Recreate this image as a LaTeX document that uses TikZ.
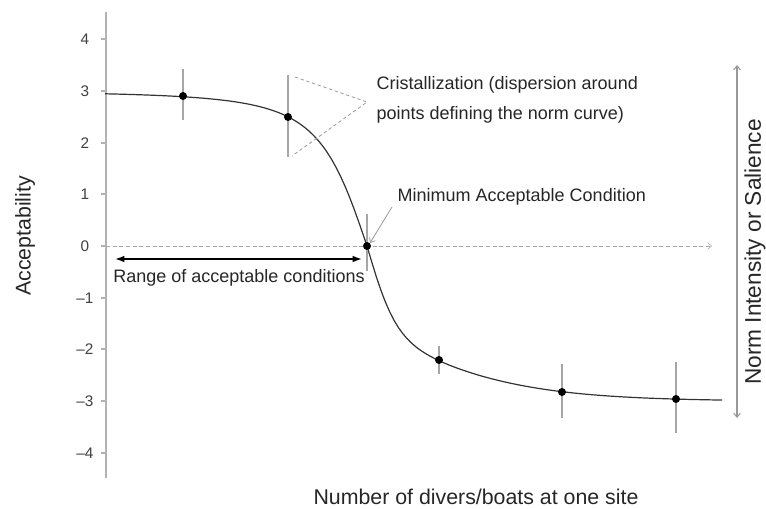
\documentclass[tikz,border=0pt]{standalone}
\usepackage{fontspec}
\setmainfont{Liberation Sans}
\usetikzlibrary{arrows.meta}

\begin{document}
\begin{tikzpicture}[x=0.75pt,y=-0.75pt,
		errbar/.style={gray!70,line width=0.8pt},
		dot/.style={circle,fill=black,inner sep=0pt,minimum size=6pt},
		note/.style={font=\fontsize{13.5}{22.5}\selectfont,text=black!85},
		declare function={th(\z)=1-2/(1+exp(2*min(\z,4)));}]
		\useasboundingbox (0,0) rectangle (766,508);
		% axis and ticks
		\draw [gray!60,line width=0.8pt] (106,12) -- (106,478);
		\foreach \y/\ytext in {39/4, 91/3, 143/2, 194/1, 246/0, 298/–1, 349/–2, 401/–3, 453/–4}
			{\draw [gray!60,line width=0.8pt] (101,\y) -- (106,\y);
			\node[text=black!75,font=\fontsize{11.5}{12}\selectfont] at (85,\y) {\ytext};}
		
		% reference level
		\draw [gray!70,dash pattern=on 3pt off 2pt,-{Straight Barb[length=3pt,width=5pt]}] (106,246) -- (712,246);
		
		% norm curve
		\draw [black!80,line width=0.9pt] plot[domain=-262:0,samples=60] ({367+\x},{246-155.25*(-0.019*\x)/sqrt(1+(0.019*\x)^2)})
			-- plot[domain=0:355,samples=80] ({367+\x},{246+82.8*th(0.035*\x)+72.45*th(0.0068*\x)});
		
		% points with dispersion
		\foreach \x/\y/\lo/\hi/\n in {183/96/69/120/1, 288/117/75/157/2, 367/246/214/271/3, 439/360/346/374/4, 562/392/364/418/5, 676/399/362/433/6}
			{\draw [errbar] (\x,\lo) -- (\x,\hi);
			\node[dot] (p\n) at (\x,\y) {};}
		
		% cristallization wedge
		\path (295,77) coordinate (w0) (367,102) coordinate (w1) (292,156) coordinate (w2);
		\draw [gray!80,dash pattern=on 2.5pt off 2pt,line width=0.6pt] (w0) -- (w1) -- (w2);
		\node[note,anchor=west,align=left] (crist) at (372,100) {Cristallization (dispersion around\\points defining the norm curve)};
		
		% minimum acceptable condition
		\node[note,anchor=west] (minac) at (393,197) {Minimum Acceptable Condition};
		\draw [gray!80,line width=0.6pt,-{Straight Barb[length=3pt,width=5pt]}] (392,207) -- (p3.north east);
		
		% range of acceptable conditions
		\path (115,259) coordinate (r0) (362,259) coordinate (r1);
		\draw [black,line width=1.2pt,{Latex[length=7pt,width=5pt]}-{Latex[length=7pt,width=5pt]}] (r0) -- (r1);
		\node[note] (range) at (239,278) {Range of acceptable conditions};
		
		% norm intensity
		\path (737,65) coordinate (n0) (737,418) coordinate (n1);
		\draw [gray!80,line width=0.8pt,{Straight Barb[length=3pt,width=5pt]}-{Straight Barb[length=3pt,width=5pt]}] (n0) -- (n1);
		\node[rotate=90,font=\fontsize{17}{18}\selectfont,text=black!85] (salience) at (755,252) {Norm Intensity or Salience};
		
		% axis labels
		\node[rotate=90,font=\fontsize{16}{18}\selectfont,text=black!85] (ylab) at (25,236) {Acceptability};
		\node[font=\fontsize{16}{18}\selectfont,text=black!85] (xlab) at (476,497) {Number of divers/boats at one site};
	\end{tikzpicture}
\end{document}
